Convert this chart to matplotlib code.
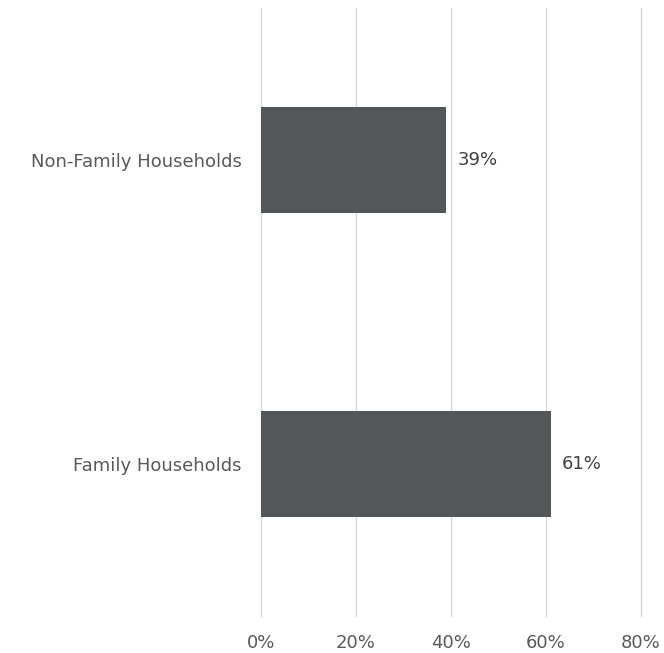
import matplotlib.pyplot as plt

# household composition
categories = ["Family Households", "Non-Family Households"]
shares = [61, 39]
ticks = [0, 20, 40, 60, 80]

BAR = "#53575a"
TXT = "#595959"
GRID = "#d9d9d9"

fig = plt.figure(figsize=(6.64, 6.53), dpi=100)
ax = fig.add_axes([261 / 664, 1 - 616 / 653, 380 / 664, 608 / 653])

y = list(range(len(categories)))
ax.barh(y, shares, height=0.35, color=BAR, zorder=2)

for yi, v in zip(y, shares):
    ax.annotate(f"{v}%", (v, yi), xytext=(8, 0), textcoords="offset points",
                va="center", ha="left", fontsize=13, color="#404040")

ax.set_xlim(0, 80)
ax.set_ylim(-0.5, 1.5)
ax.set_xticks(ticks)
ax.set_xticklabels([f"{t}%" for t in ticks])
ax.set_yticks(y)
ax.set_yticklabels(categories)
ax.tick_params(axis="both", length=0, colors=TXT, labelsize=13)
ax.tick_params(axis="x", pad=13)
ax.tick_params(axis="y", pad=14)

ax.grid(axis="x", color=GRID, linewidth=1, zorder=0)
for gl in ax.get_xgridlines():
    gl.set_clip_on(False)
for s in ax.spines.values():
    s.set_visible(False)

fig.savefig("out.png", dpi=100)
